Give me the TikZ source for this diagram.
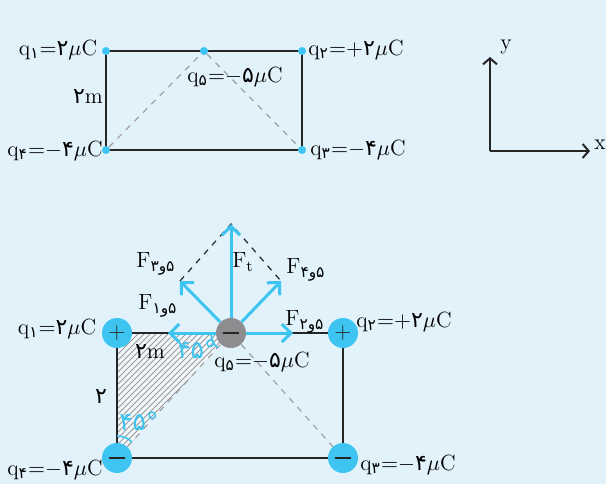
\documentclass[tikz,border=0pt]{standalone}
\usepackage{amsmath}
\usepackage{fontspec}
\usepackage{xcolor}
\usepackage{tikz}
\usetikzlibrary{arrows.meta,positioning,backgrounds,patterns}
\newfontfamily\pfont{DejaVu Sans}
\newcommand{\fa}[1]{\text{\pfont #1}}
\newcommand{\fsub}[2]{\fa{#1}\fa{و}\fa{#2}}
\newcommand{\qval}[3]{$\mathrm{q}_{\fa{#1}}{=}{#2}\fa{#3}\mu\mathrm{C}$}
\definecolor{pcyan}{HTML}{3EC4F1}
\definecolor{pbg}{HTML}{E1F2FB}
\definecolor{pgray}{HTML}{8D8D90}
\definecolor{pdark}{HTML}{262626}

\begin{document}
\begin{tikzpicture}[x=0.5pt,y=-0.5pt,
    font=\fontsize{11}{13}\selectfont,
    dot/.style={circle,fill=pcyan,inner sep=0pt,minimum size=4pt},
    charge/.style={circle,fill=pcyan,inner sep=0pt,minimum size=15pt,text=pdark},
    side/.style={pdark,line width=1pt},
    guide/.style={gray!75,dashed,line width=0.6pt},
    force/.style={-{Straight Barb[length=4.5pt,width=9pt]},pcyan,line width=1.5pt},
    axis/.style={-{Straight Barb[length=3pt,width=7pt]},pdark,line width=1pt},
    ang/.style={pcyan,inner sep=1pt,font=\fontsize{12.5}{14}\selectfont}]
      \useasboundingbox (0,0) rectangle (606,484);

      % Upper sketch: charges on the rectangle
      \node[dot] (a1) at (106,51) {};
      \node[dot] (a2) at (302,51) {};
      \node[dot] (a3) at (302,150) {};
      \node[dot] (a4) at (106,150) {};
      \node[dot] (a5) at (204,51) {};
      \node (la1) at (58,50) {\qval{۱}{}{۲}};
      \node (la2) at (356,50) {\qval{۲}{+}{۲}};
      \node (la3) at (358,150) {\qval{۳}{-}{۴}};
      \node (la4) at (55,151) {\qval{۴}{-}{۴}};
      \node (la5) at (235,77) {\qval{۵}{-}{۵}};
      \node (ha) at (88,97) {{\pfont ۲}m};

      % Axes
      \coordinate (o) at (490,151);
      \node (ly) at (506,47) {y};
      \node (lx) at (600,145) {x};
      \draw[axis] (o) -- (490,57);
      \draw[axis] (o) -- (590,151);

      % Lower sketch: charges
      \node[charge] (b1) at (117,333) {$+$};
      \node[charge] (b2) at (343,333) {$+$};
      \node[charge] (b3) at (343,458) {\rule[-0.65pt]{8pt}{1.3pt}};
      \node[charge] (b4) at (117,458) {\rule[-0.65pt]{8pt}{1.3pt}};
      \node[charge,fill=pgray] (b5) at (231,333) {\rule[-0.65pt]{8pt}{1.3pt}};
      \node (lb1) at (57,329) {\qval{۱}{}{۲}};
      \node (lb2) at (404,322) {\qval{۲}{+}{۲}};
      \node (lb3) at (408,465) {\qval{۳}{-}{۴}};
      \node (lb4) at (55,470) {\qval{۴}{-}{۴}};
      \node (lb5) at (262,362) {\qval{۵}{-}{۵}};
      \node (hb) at (150,352) {{\pfont ۲}m};
      \node (vb) at (101,397) {{\pfont ۲}};

      \begin{scope}[on background layer]
        \fill[pbg] (0,0) rectangle (606,484);
        \draw[side] (a1.center) -- (a2.center) -- (a3.center)
          -- (a4.center) -- cycle;
        \draw[guide] (a4) -- (a5) -- (a3);
        % hatched triangle
        \fill[white!55!pbg] (b1.center) -- (b5.center) -- (b4.center) -- cycle;
        \fill[pattern=north east lines,pattern color=gray!80]
          (b1.center) -- (b5.center) -- (b4.center) -- cycle;
        \draw[side] (b1.center) -- (b2.center) -- (b3.center)
          -- (b4.center) -- cycle;
        \draw[guide] (b4) -- (b5) -- (b3);
        % angle marks
        \draw[pcyan,line width=0.8pt] (b4.center) ++(-90:22)
          arc[start angle=-90,end angle=-47.6,radius=22];
        \draw[pcyan,line width=0.8pt] (b5.center) ++(-180:20)
          arc[start angle=-180,end angle=-227.6,radius=20];
      \end{scope}
      \node[ang] (g5) at (197,349) {\fa{۴}\fa{۵}\fa{°}};
      \node[ang] (g4) at (139,421) {\fa{۴}\fa{۵}\fa{°}};

      % Forces on q5
      \coordinate (t) at (231,224);
      \coordinate (t1) at (168,333);
      \coordinate (t2) at (293,333);
      \coordinate (t3) at (180,281);
      \coordinate (t4) at (281,281);
      \draw[pdark,dashed,line width=0.6pt] (t3) -- (t) -- (t4);
      \foreach \tip in {t,t1,t2,t3,t4}
        \draw[force] (b5) -- (\tip);
      \node (ft) at (243,262) {$\mathrm{F}_{\mathrm{t}}$};
      \node (f1) at (158,306) {$\mathrm{F}_{\fsub{۱}{۵}}$};
      \node (f2) at (305,322) {$\mathrm{F}_{\fsub{۲}{۵}}$};
      \node (f3) at (156,264) {$\mathrm{F}_{\fsub{۳}{۵}}$};
      \node (f4) at (306,270) {$\mathrm{F}_{\fsub{۴}{۵}}$};
    \end{tikzpicture}
\end{document}
